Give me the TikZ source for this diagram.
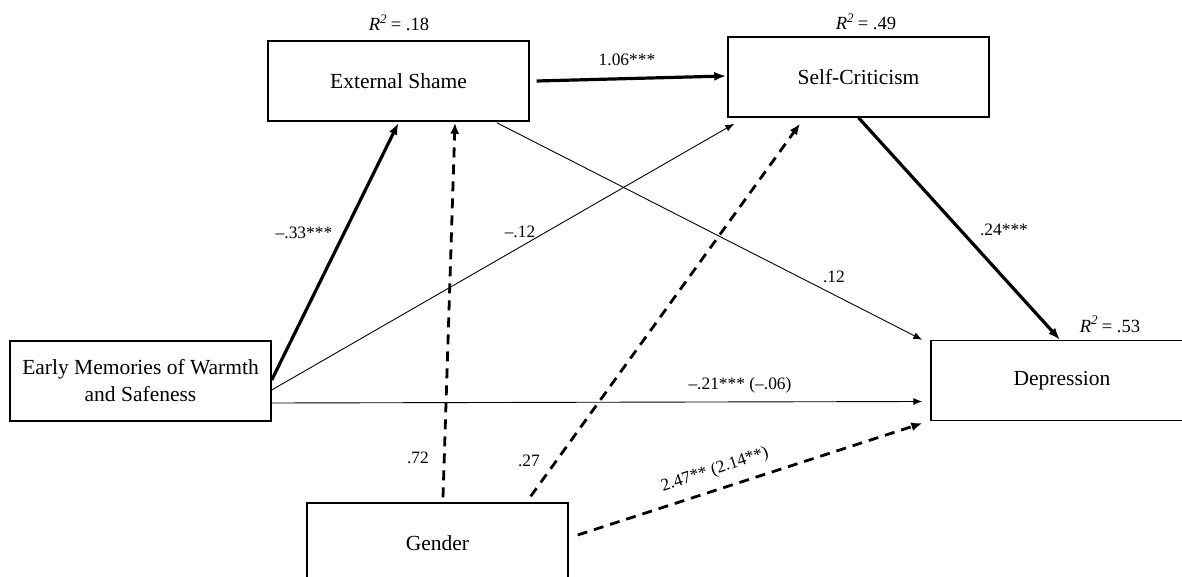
\documentclass[tikz,border=0pt]{standalone}
\usepackage{fontspec}
\setmainfont{Liberation Serif}
\usetikzlibrary{arrows.meta}

\tikzset{
  var/.style={draw, line width=0.7pt, minimum width=130.5pt, minimum height=40pt,
              inner sep=0pt, align=center, font=\fontsize{10.75}{13.5}\selectfont},
  coef/.style={inner sep=0pt, font=\fontsize{8.7}{10}\selectfont},
  rsq/.style={inner sep=0pt, font=\fontsize{9.3}{11}\selectfont},
  strong/.style={line width=1.6pt, -{Latex[length=6pt,width=4.5pt]}},
  weak/.style={line width=0.45pt, -{Latex[length=4.5pt,width=3.5pt]}},
  ctrl/.style={line width=1.4pt, dash pattern=on 5pt off 3.5pt,
               -{Latex[length=5.5pt,width=4.5pt]}},
}

\begin{document}
\begin{tikzpicture}[x=0.5pt, y=-0.5pt]
  \useasboundingbox (0,0) rectangle (1182,577);

  % variables
  \node (es)  [var] at (398.5,81)  {External Shame};
  \node (sc)  [var] at (858.5,77)  {Self-Criticism};
  \node (em)  [var] at (140.5,381) {Early Memories of Warmth\\and Safeness};
  \node (dep) [var, minimum width=131pt] at (1062,380.5) {Depression};
  \node (gen) [var] at (437.5,543) {Gender};

  % explained variance
  \node (r-es)  [rsq] at (399,23)   {\textit{R}\textsuperscript{\textit{2}}\,= .18};
  \node (r-sc)  [rsq] at (866,22)   {\textit{R}\textsuperscript{\textit{2}}\,= .49};
  \node (r-dep) [rsq] at (1110,324) {\textit{R}\textsuperscript{\textit{2}}\,= .53};

  % paths
  \draw[strong] ([xshift=3.5pt]es.east) -- ([xshift=-0.5pt,yshift=0.5pt]sc.west);
  \draw[strong] ([yshift=0.5pt]em.east) -- ([yshift=-0.5pt]es.south);
  \draw[weak]   ([yshift=-4.5pt]em.east) -- ([xshift=3.5pt,yshift=-3pt]sc.south west);
  \draw[weak]   ([yshift=-11pt]em.east) -- ([xshift=-4pt,yshift=-10.5pt]dep.west);
  \draw[weak]   ([xshift=-16.5pt,yshift=-0.5pt]es.south east) -- ([xshift=-4pt]dep.north west);
  \draw[strong] (sc.south) -- ([xshift=-1pt]dep.north);
  \draw[ctrl]   ([xshift=2.75pt,yshift=2.5pt]gen.north) -- ([xshift=28.25pt,yshift=-0.5pt]es.south);
  \draw[ctrl]   ([xshift=-19pt,yshift=3pt]gen.north east) -- ([xshift=-29.25pt,yshift=-3pt]sc.south);
  \draw[ctrl]   ([xshift=4.5pt,yshift=4pt]gen.east) -- ([xshift=-4pt,yshift=-1pt]dep.south west);

  % coefficients
  \node (c-essc)  [coef] at (627,60)  {1.06***};
  \node (c-emes)  [coef] at (304,233) {--.33***};
  \node (c-emsc)  [coef] at (520,232) {--.12};
  \node (c-scdep) [coef] at (1004,230) {.24***};
  \node (c-esdep) [coef] at (834,277) {.12};
  \node (c-emdep) [coef] at (740,385) {--.21*** (--.06)};
  \node (c-genes) [coef] at (418,458) {.72};
  \node (c-gensc) [coef] at (529,461) {.27};
  \node (c-gendep) [coef, rotate=18] at (715,470) {2.47** (2.14**)};
\end{tikzpicture}
\end{document}
